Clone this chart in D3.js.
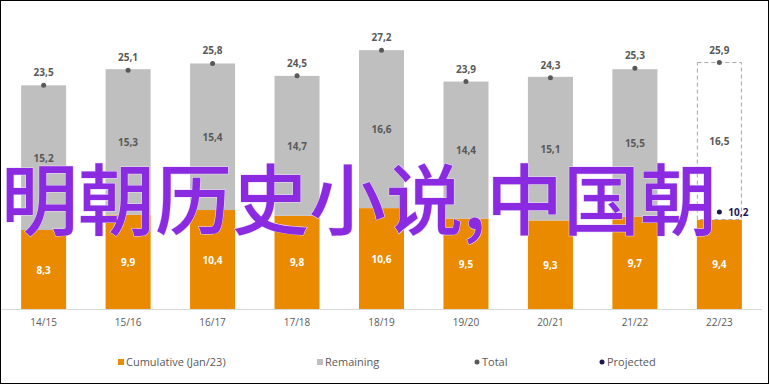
<!DOCTYPE html>
<html>
<head>
<meta charset="utf-8">
<script src="https://cdn.jsdelivr.net/npm/d3@7"></script>
<style>
  body { margin: 0; background: #fff; }
  svg { display: block; font-family: "Open Sans", Lato, sans-serif; }
</style>
</head>
<body>
<div id="box"></div>
<script>
'use strict';

var seasons = ["14/15", "15/16", "16/17", "17/18", "18/19", "19/20", "20/21", "21/22", "22/23"];
var cumulative = [8.3, 9.9, 10.4, 9.8, 10.6, 9.5, 9.3, 9.7, 9.4];
var remaining = [15.2, 15.3, 15.4, 14.7, 16.6, 14.4, 15.1, 15.5, 16.5];
var totals = [23.5, 25.1, 25.8, 24.5, 27.2, 23.9, 24.3, 25.3, 25.9];
var projected = [null, null, null, null, null, null, null, null, 10.2];
var legendNames = ["Cumulative (Jan/23)", "Remaining", "Total", "Projected"];

var width = 770, height = 385;
var margin = {top: 14, left: 0, right: 7, bottom: 76};
var fmt = function(v) { return d3.format(".1f")(v).replace(".", ","); };

var svg = d3.select("#box")
  .append("svg")
    .attr("width", width)
    .attr("height", height);

var x = d3.scaleBand()
  .domain(seasons)
  .range([margin.left, width - margin.right])
  .paddingInner(0.467)
  .paddingOuter(0.25);

var y = d3.scaleLinear()
  .domain([0, 31])
  .range([height - margin.bottom, margin.top]);

var last = seasons.length - 1;

// orange cumulative bars
svg.append("g").selectAll("rect")
  .data(seasons)
  .join("rect")
    .attr("x", function(d) { return x(d); })
    .attr("y", function(d, i) { return y(cumulative[i]); })
    .attr("width", x.bandwidth())
    .attr("height", function(d, i) { return y(0) - y(cumulative[i]); })
    .attr("fill", "#ea8a00");

// gray remaining bars (last one dashed, projected)
svg.append("g").selectAll("rect")
  .data(seasons)
  .join("rect")
    .attr("x", function(d, i) { return i === last ? x(d) + 0.5 : x(d); })
    .attr("y", function(d, i) { return y(cumulative[i] + remaining[i]); })
    .attr("width", function(d, i) { return i === last ? x.bandwidth() - 1 : x.bandwidth(); })
    .attr("height", function(d, i) { return y(cumulative[i]) - y(cumulative[i] + remaining[i]); })
    .attr("fill", function(d, i) { return i === last ? "#fff" : "#bfbfbf"; })
    .attr("stroke", function(d, i) { return i === last ? "#a6a6a6" : "none"; })
    .attr("stroke-dasharray", "4,3");

// x axis
svg.append("line")
  .attr("x1", 1).attr("x2", width - 8)
  .attr("y1", y(0) + 0.5).attr("y2", y(0) + 0.5)
  .attr("stroke", "#d9d9d9");
svg.append("g").selectAll("text")
  .data(seasons)
  .join("text")
    .attr("x", function(d) { return x(d) + x.bandwidth() / 2; })
    .attr("y", y(0) + 17)
    .attr("text-anchor", "middle")
    .style("font-size", "10px")
    .attr("fill", "#595959")
    .text(function(d) { return d; });

// value labels
svg.append("g").selectAll("text")
  .data(seasons)
  .join("text")
    .attr("x", function(d) { return x(d) + x.bandwidth() / 2; })
    .attr("y", function(d, i) { return y(cumulative[i] / 2) + 4; })
    .attr("text-anchor", "middle")
    .style("font-size", "10px")
    .style("font-weight", "bold")
    .attr("fill", "#fff")
    .text(function(d, i) { return fmt(cumulative[i]); });

svg.append("g").selectAll("text")
  .data(seasons)
  .join("text")
    .attr("x", function(d) { return x(d) + x.bandwidth() / 2; })
    .attr("y", function(d, i) { return y(cumulative[i] + remaining[i] / 2) + 4; })
    .attr("text-anchor", "middle")
    .style("font-size", "10px")
    .style("font-weight", "bold")
    .attr("fill", "#595959")
    .text(function(d, i) { return fmt(remaining[i]); });

// total dots + labels
svg.append("g").selectAll("circle")
  .data(seasons)
  .join("circle")
    .attr("cx", function(d) { return x(d) + x.bandwidth() / 2; })
    .attr("cy", function(d, i) { return y(totals[i]); })
    .attr("r", 2.5)
    .attr("fill", "#595959");
svg.append("g").selectAll("text")
  .data(seasons)
  .join("text")
    .attr("x", function(d) { return x(d) + x.bandwidth() / 2; })
    .attr("y", function(d, i) { return y(totals[i]) - 9; })
    .attr("text-anchor", "middle")
    .style("font-size", "10px")
    .style("font-weight", "bold")
    .attr("fill", "#595959")
    .text(function(d, i) { return fmt(totals[i]); });

// projected
var proj = seasons.map(function(d, i) { return {s: d, v: projected[i]}; })
  .filter(function(p) { return p.v !== null; });
svg.append("g").selectAll("circle")
  .data(proj)
  .join("circle")
    .attr("cx", function(p) { return x(p.s) + x.bandwidth() / 2; })
    .attr("cy", function(p) { return y(p.v); })
    .attr("r", 2.5)
    .attr("fill", "#1f1552");
svg.append("g").selectAll("text")
  .data(proj)
  .join("text")
    .attr("x", function(p) { return x(p.s) + x.bandwidth() / 2 + 9; })
    .attr("y", function(p) { return y(p.v) + 4; })
    .style("font-size", "10px")
    .style("font-weight", "bold")
    .attr("fill", "#1f1552")
    .text(function(p) { return fmt(p.v); });

// legend
var legendX = [118, 317, 475, 600];
var leg = svg.append("g").selectAll("g")
  .data(legendNames)
  .join("g")
    .attr("transform", function(d, i) { return "translate(" + legendX[i] + ",363)"; });
leg.filter(function(d, i) { return i < 2; })
  .append("rect")
    .attr("x", 0).attr("y", -4)
    .attr("width", 6).attr("height", 6)
    .attr("fill", function(d, i) { return i === 0 ? "#ea8a00" : "#bfbfbf"; });
leg.filter(function(d, i) { return i >= 2; })
  .append("circle")
    .attr("cx", 2).attr("cy", -1)
    .attr("r", 2.5)
    .attr("fill", function(d, i) { return i === 0 ? "#595959" : "#1f1552"; });
leg.append("text")
  .attr("x", function(d, i) { return i < 2 ? 8 : 7; })
  .attr("y", 3)
  .style("font-size", "11px")
  .attr("fill", "#595959")
  .text(function(d) { return d; });

// overlay text
svg.append("text")
  .attr("x", 1)
  .attr("y", 229)
  .style("font-family", "'Noto Sans CJK SC', sans-serif")
  .style("font-size", "77px")
  .style("font-weight", "500")
  .attr("fill", "#8a2be2")
  .attr("stroke", "#e8d8f8")
  .attr("stroke-width", 1)
  .attr("paint-order", "stroke")
  .text("明朝历史小说,中国朝");

// frame
svg.append("rect")
  .attr("x", 0.5).attr("y", 0.5)
  .attr("width", 768).attr("height", 383)
  .attr("fill", "none")
  .attr("stroke", "#000");
</script>
</body>
</html>
